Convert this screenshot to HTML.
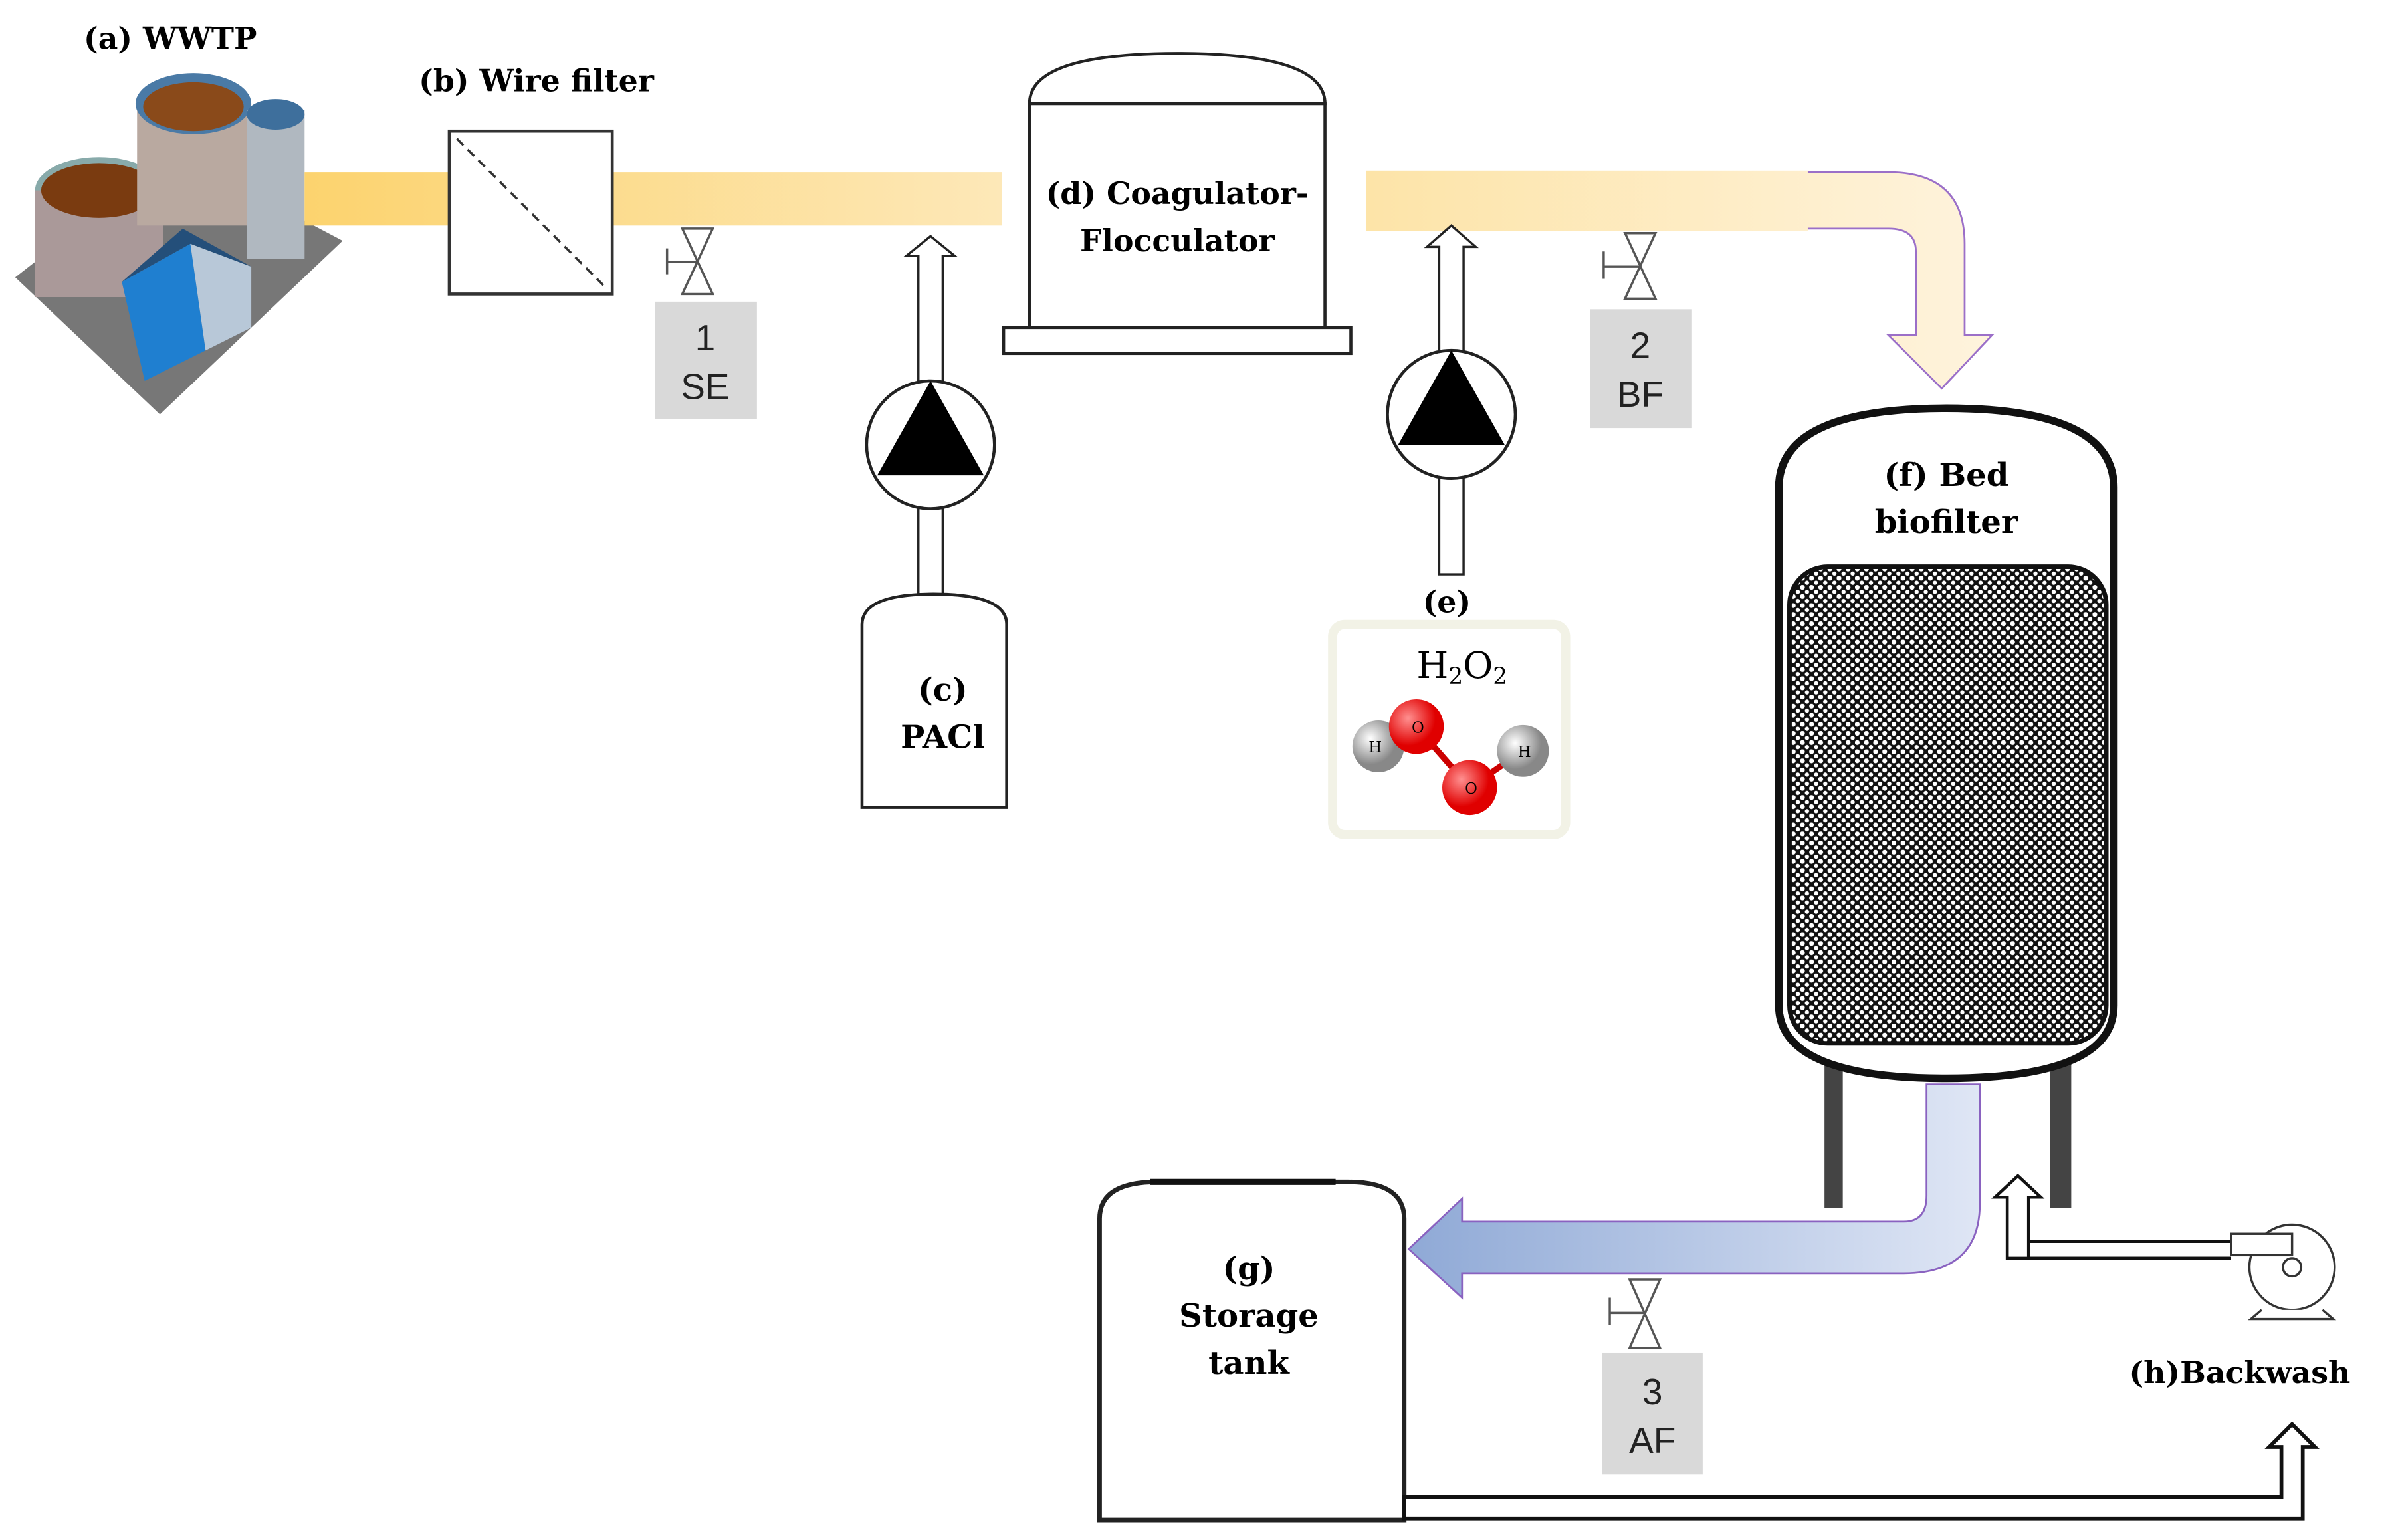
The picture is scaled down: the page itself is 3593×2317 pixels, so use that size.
<!DOCTYPE html>
<html><head><meta charset="utf-8"><style>html,body{margin:0;padding:0;background:#fff}svg{display:block}</style></head><body>
<svg width="3593" height="2317" viewBox="0 0 1568 1011" xmlns="http://www.w3.org/2000/svg" font-family="DejaVu Serif, serif">
<defs>
<linearGradient id="yp" x1="0" x2="1"><stop offset="0" stop-color="#fcd36e"/><stop offset="1" stop-color="#fde8b8"/></linearGradient>
<linearGradient id="yp2" gradientUnits="userSpaceOnUse" x1="898" y1="0" x2="1300" y2="0"><stop offset="0" stop-color="#fde4a8"/><stop offset="1" stop-color="#fef3dc"/></linearGradient>
<linearGradient id="bp" x1="0" x2="1"><stop offset="0" stop-color="#8fa9d6"/><stop offset="1" stop-color="#dfe6f5"/></linearGradient>
<pattern id="dots" width="6" height="6" patternUnits="userSpaceOnUse"><rect width="6" height="6" fill="#111"/><circle cx="1.5" cy="1.5" r="1.6" fill="#fff"/><circle cx="4.5" cy="4.5" r="1.4" fill="#fff"/></pattern>
<radialGradient id="red" cx="0.35" cy="0.35"><stop offset="0" stop-color="#ff9090"/><stop offset="1" stop-color="#e00000"/></radialGradient>
<radialGradient id="gry" cx="0.35" cy="0.35"><stop offset="0" stop-color="#fff"/><stop offset="1" stop-color="#888"/></radialGradient>
</defs>
<!-- WWTP -->
<polygon points="10,182 115,100 225,158 105,272" fill="#777"/>
<ellipse cx="65" cy="125" rx="42" ry="22" fill="#8aa"/><rect x="23" y="125" width="84" height="70" fill="#a99"/><ellipse cx="65" cy="125" rx="38" ry="18" fill="#7a3b10"/>
<rect x="90" y="68" width="75" height="80" fill="#b9a9a0"/><ellipse cx="127" cy="68" rx="38" ry="20" fill="#4a7aa6"/><ellipse cx="127" cy="70" rx="33" ry="16" fill="#8a4a1a"/>
<rect x="162" y="72" width="38" height="98" fill="#b0b8c0"/><ellipse cx="181" cy="75" rx="19" ry="10" fill="#3e6f9c"/>
<polygon points="80,185 125,160 135,230 95,250" fill="#1f7fd0"/><polygon points="125,160 165,175 165,215 135,230" fill="#b8c8d8"/><polygon points="80,185 120,150 165,175 125,160" fill="#244f7a"/>
<text x="55" y="32" font-size="20" font-weight="bold">(a) WWTP</text>
<!-- top pipe -->
<rect x="200" y="113" width="458" height="35" fill="url(#yp)"/>
<path d="M898,113 H1240 Q1290,113 1290,160 V220 H1308 L1275,255 L1240,220 H1258 V165 Q1258,150 1240,150 H898 Z" fill="url(#yp2)" stroke="#9b6fc8" stroke-width="1.2"/>
<rect x="897" y="112" width="290" height="39.5" fill="url(#yp2)"/>
<!-- wire filter -->
<rect x="295" y="86" width="107" height="107" fill="#fff" stroke="#333" stroke-width="2"/>
<line x1="300" y1="91" x2="397" y2="188" stroke="#333" stroke-width="1.5" stroke-dasharray="6,4"/>
<text x="275" y="60" font-size="20" font-weight="bold">(b) Wire filter</text>
<!-- valves -->
<g fill="none" stroke="#555" stroke-width="1.5">
<path d="M448,150 L468,150 L448,193 L468,193 Z"/><path d="M438,163 V180 M438,172 H458"/>
<path d="M1067,153 L1087,153 L1067,196 L1087,196 Z"/><path d="M1053,165 V183 M1053,175 H1077"/>
<path d="M1070,840 L1090,840 L1070,885 L1090,885 Z"/><path d="M1057,852 V870 M1057,862 H1080"/>
</g>
<g font-family="Liberation Sans, sans-serif" font-size="24" text-anchor="middle" fill="#222">
<rect x="430" y="198" width="67" height="77" fill="#d9d9d9"/><text x="463" y="230">1</text><text x="463" y="262">SE</text>
<rect x="1044" y="203" width="67" height="78" fill="#d9d9d9"/><text x="1077" y="235">2</text><text x="1077" y="267">BF</text>
<rect x="1052" y="888" width="66" height="80" fill="#d9d9d9"/><text x="1085" y="922">3</text><text x="1085" y="954">AF</text>
</g>
<!-- pump 1 -->
<path d="M603,390 V168 H595 L611,155 L627,168 H619 V390 Z" fill="#fff" stroke="#222" stroke-width="1.5"/>
<circle cx="611" cy="292" r="42" fill="#fff" stroke="#222" stroke-width="2"/>
<polygon points="611,250 646,312 576,312" fill="#000"/>
<path d="M566,530 V410 Q566,390 613,390 Q661,390 661,410 V530 Z" fill="#fff" stroke="#222" stroke-width="2"/>
<text x="619" y="460" font-size="21" font-weight="bold" text-anchor="middle">(c)</text>
<text x="619" y="491" font-size="21" font-weight="bold" text-anchor="middle">PACl</text>
<!-- coagulator -->
<path d="M676,68 Q676,35 773,35 Q870,35 870,68 Z" fill="#fff" stroke="#222" stroke-width="2"/>
<rect x="676" y="68" width="194" height="147" fill="#fff" stroke="#222" stroke-width="2"/>
<rect x="659" y="215" width="228" height="17" fill="#fff" stroke="#222" stroke-width="2"/>
<text x="773" y="134" font-size="20" font-weight="bold" text-anchor="middle">(d) Coagulator-</text>
<text x="773" y="165" font-size="20" font-weight="bold" text-anchor="middle">Flocculator</text>
<!-- pump 2 -->
<path d="M945,377 V162 H937 L953,148 L969,162 H961 V377 Z" fill="#fff" stroke="#222" stroke-width="1.5"/>
<circle cx="953" cy="272" r="42" fill="#fff" stroke="#222" stroke-width="2"/>
<polygon points="953,230 988,292 918,292" fill="#000"/>
<text x="950" y="402" font-size="20" font-weight="bold" text-anchor="middle">(e)</text>
<rect x="875" y="410" width="153" height="138" fill="#fff" stroke="#f2f2e6" stroke-width="6" rx="8"/>
<text x="960" y="445" font-size="24" text-anchor="middle">H<tspan font-size="15" dy="4">2</tspan><tspan dy="-4">O</tspan><tspan font-size="15" dy="4">2</tspan></text>
<line x1="905" y1="490" x2="930" y2="477" stroke="#c00" stroke-width="4"/><line x1="930" y1="477" x2="965" y2="517" stroke="#c00" stroke-width="4"/><line x1="965" y1="517" x2="1000" y2="493" stroke="#c00" stroke-width="4"/>
<circle cx="905" cy="490" r="17" fill="url(#gry)"/><circle cx="930" cy="477" r="18" fill="url(#red)"/><circle cx="965" cy="517" r="18" fill="url(#red)"/><circle cx="1000" cy="493" r="17" fill="url(#gry)"/>
<g font-size="10" text-anchor="middle"><text x="903" y="494">H</text><text x="931" y="481">O</text><text x="966" y="521">O</text><text x="1001" y="497">H</text></g>
<!-- biofilter -->
<rect x="1198" y="685" width="12" height="108" fill="#444"/><rect x="1346" y="685" width="14" height="108" fill="#444"/>
<path d="M1168,660 V320 Q1168,268 1278,268 Q1388,268 1388,320 V660 Q1388,708 1278,708 Q1168,708 1168,660 Z" fill="#fff" stroke="#111" stroke-width="5"/>
<rect x="1175" y="372" width="208" height="313" rx="25" fill="url(#dots)" stroke="#111" stroke-width="3"/>
<text x="1278" y="319" font-size="21" font-weight="bold" text-anchor="middle">(f) Bed</text>
<text x="1278" y="350" font-size="21" font-weight="bold" text-anchor="middle">biofilter</text>
<!-- blue pipe -->
<path d="M1265,712 H1300 V790 Q1300,836 1250,836 H960 V852 L925,820 L960,787 V802 H1250 Q1265,802 1265,785 Z" fill="url(#bp)" stroke="#8a62c0" stroke-width="1.2"/>
<!-- storage -->
<path d="M722,998 V800 Q722,776 760,776 H885 Q922,776 922,800 V998 Z" fill="#fff" stroke="#222" stroke-width="3"/>
<line x1="755" y1="776" x2="877" y2="776" stroke="#111" stroke-width="4"/>
<g font-size="21" font-weight="bold" text-anchor="middle"><text x="820" y="840">(g)</text><text x="820" y="871">Storage</text><text x="820" y="902">tank</text></g>
<!-- backwash -->
<path d="M1465,826 H1332 V786 H1340 L1325,772 L1310,786 H1318 V826 Z" fill="#fff" stroke="#111" stroke-width="2"/>
<path d="M1332,815 H1465 M1332,826 H1465" stroke="#111" stroke-width="2" fill="none"/>
<circle cx="1505" cy="832" r="28" fill="#fff" stroke="#333" stroke-width="1.5"/><circle cx="1505" cy="832" r="6" fill="#fff" stroke="#333" stroke-width="1.5"/>
<rect x="1465" y="810" width="40" height="14" fill="#fff" stroke="#333" stroke-width="1.5"/>
<path d="M1485,860 L1478,866 H1532 L1525,860" fill="#fff" stroke="#333" stroke-width="1.5"/>
<text x="1398" y="908" font-size="20" font-weight="bold">(h)Backwash</text>
<path d="M922,983 H1498 V950 H1490 L1505,935 L1520,950 H1512 V997 H922 Z" fill="#fff" stroke="#111" stroke-width="2.5"/>
</svg>
</body></html>
